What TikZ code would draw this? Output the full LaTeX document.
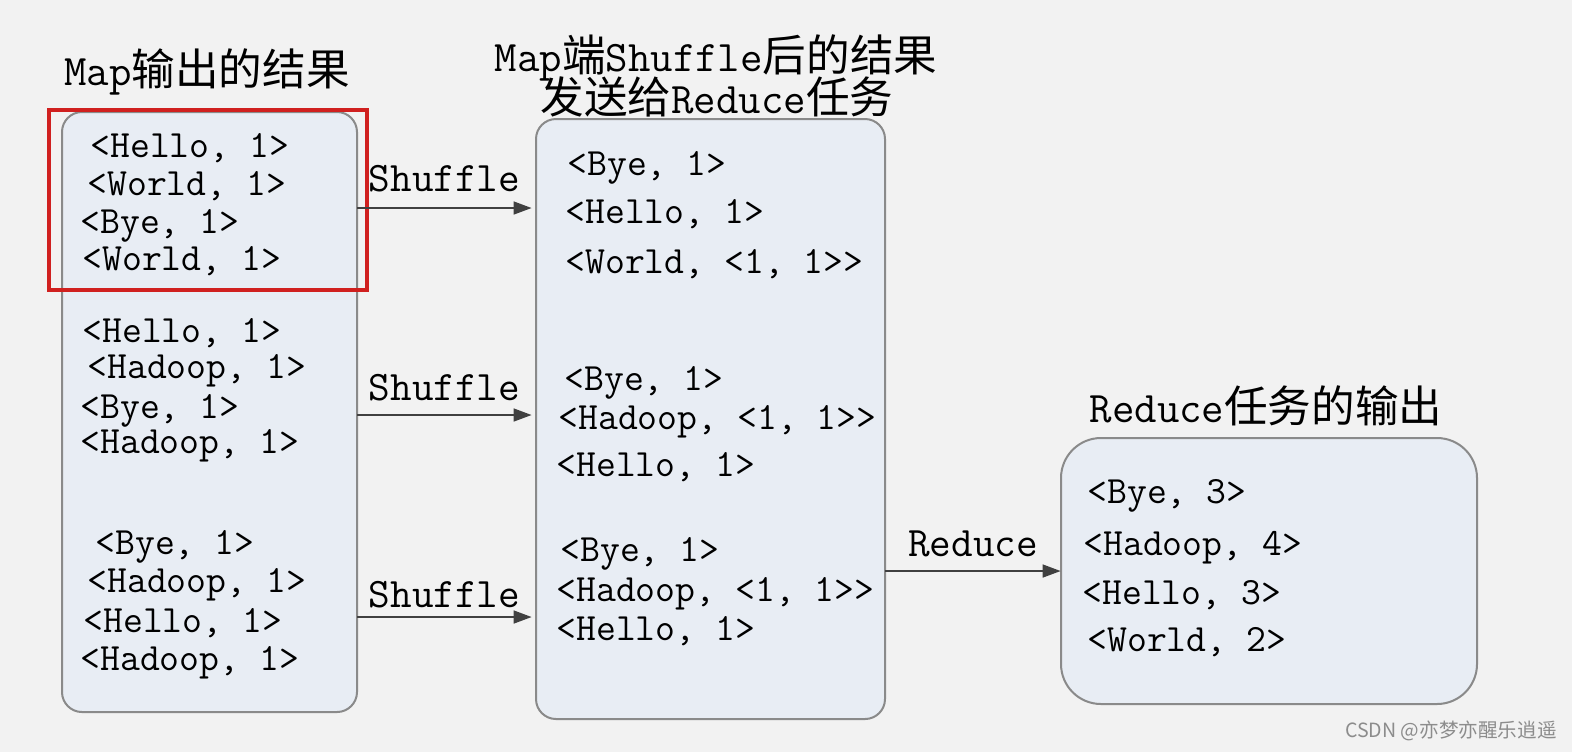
\documentclass[tikz,border=0pt]{standalone}
\usepackage{fontspec}
\newfontfamily\cjk{Noto Sans CJK SC}
\usetikzlibrary{arrows.meta}
\definecolor{bg}{HTML}{F2F2F2}
\definecolor{boxfill}{HTML}{E8EDF4}
\definecolor{boxline}{HTML}{8A8A8A}
\definecolor{redframe}{HTML}{D0201F}
\tikzset{
  panel/.style={draw=boxline, line width=1pt, fill=boxfill, rounded corners=10pt, inner sep=0pt},
  item/.style={anchor=west, inner sep=0pt, yshift=-1.5pt, text height=11pt, text depth=2pt, font=\ttfamily\fontsize{19.3}{21}\selectfont},
  title/.style={inner sep=0pt, font=\fontsize{21.8}{24}\selectfont},
  lbl/.style={anchor=south, inner sep=0pt, font=\ttfamily\fontsize{21}{23}\selectfont},
  arr/.style={draw=black!75, line width=0.8pt, -{Triangle[length=9pt,width=6.5pt]}},
}
\begin{document}
\begin{tikzpicture}[x=0.5pt,y=-0.5pt]
\fill[bg] (0,0) rectangle (1572,752);
\useasboundingbox (0,0) rectangle (1572,752);

% panels
\draw[panel] (62,112) rectangle (357,712);
\node[inner sep=0pt, minimum width=147.5pt, minimum height=300pt] (lbox) at (209.5,412) {};
\draw[panel] (536,119) rectangle (885,719);
\node[inner sep=0pt, minimum width=174.5pt, minimum height=300pt] (mbox) at (710.5,419) {};
\draw[panel, rounded corners=20pt] (1061,438) rectangle (1477,704);
\node[inner sep=0pt, minimum width=208pt, minimum height=133pt] (rbox) at (1269,571) {};

% red frame
\draw[redframe, line width=2pt] (49,110) rectangle (367,290);

% titles
\node[title] (t1) at (207,72) {\ttfamily Map\cjk 输出的结果};
\node[title] (t2) at (716,58) {\ttfamily Map\cjk 端\ttfamily Shuffle\cjk 后的结果};
\node[title] (t3) at (717,97) {\cjk 发送给\ttfamily Reduce\cjk 任务};
\node[title] (t4) at (1266,406) {\ttfamily Reduce\cjk 任务的输出};

% left items
\node[item] (l1) at (90,145) {<Hello, 1>};
\node[item] (l2) at (87,183) {<World, 1>};
\node[item] (l3) at (80,221) {<Bye, 1>};
\node[item] (l4) at (82,258) {<World, 1>};
\node[item] (l5) at (82,330) {<Hello, 1>};
\node[item] (l6) at (87,366) {<Hadoop, 1>};
\node[item] (l7) at (80,406) {<Bye, 1>};
\node[item] (l8) at (80,441) {<Hadoop, 1>};
\node[item] (l9) at (95,542) {<Bye, 1>};
\node[item] (l10) at (87,580) {<Hadoop, 1>};
\node[item] (l11) at (83,620) {<Hello, 1>};
\node[item] (l12) at (80,658) {<Hadoop, 1>};

% middle items
\node[item] (m1) at (567,163) {<Bye, 1>};
\node[item] (m2) at (565,211) {<Hello, 1>};
\node[item] (m3) at (565,261) {<World, <1, 1>{}>};
\node[item] (m4) at (564,378) {<Bye, 1>};
\node[item] (m5) at (558,417) {<Hadoop, <1, 1>{}>};
\node[item] (m6) at (556,464) {<Hello, 1>};
\node[item] (m7) at (560,549) {<Bye, 1>};
\node[item] (m8) at (556,589) {<Hadoop, <1, 1>{}>};
\node[item] (m9) at (556,628) {<Hello, 1>};

% right items
\node[item] (r1) at (1087,491) {<Bye, 3>};
\node[item] (r2) at (1083,543) {<Hadoop, 4>};
\node[item] (r3) at (1082,592) {<Hello, 3>};
\node[item] (r4) at (1087,639) {<World, 2>};

% arrows
\draw[arr] (lbox.east |- 0,208) -- node[lbl, above=7.5pt] (s1) {Shuffle} ([xshift=-2pt]mbox.west |- 0,208);
\draw[arr] (lbox.east |- 0,415) -- node[lbl, above=6.5pt] (s2) {Shuffle} ([xshift=-2pt]mbox.west |- 0,415);
\draw[arr] (lbox.east |- 0,617) -- node[lbl, above=4pt] (s3) {Shuffle} ([xshift=-2pt]mbox.west |- 0,617);
\draw[arr] (mbox.east |- 0,571) -- node[lbl, above=6.5pt] (rd) {Reduce} (rbox.west |- 0,571);

% watermark
\node[inner sep=0pt, anchor=east, text=black!45, font=\cjk\fontsize{9.8}{11}\selectfont] (wm) at (1557,731) {CSDN @亦梦亦醒乐逍遥};
\end{tikzpicture}
\end{document}
